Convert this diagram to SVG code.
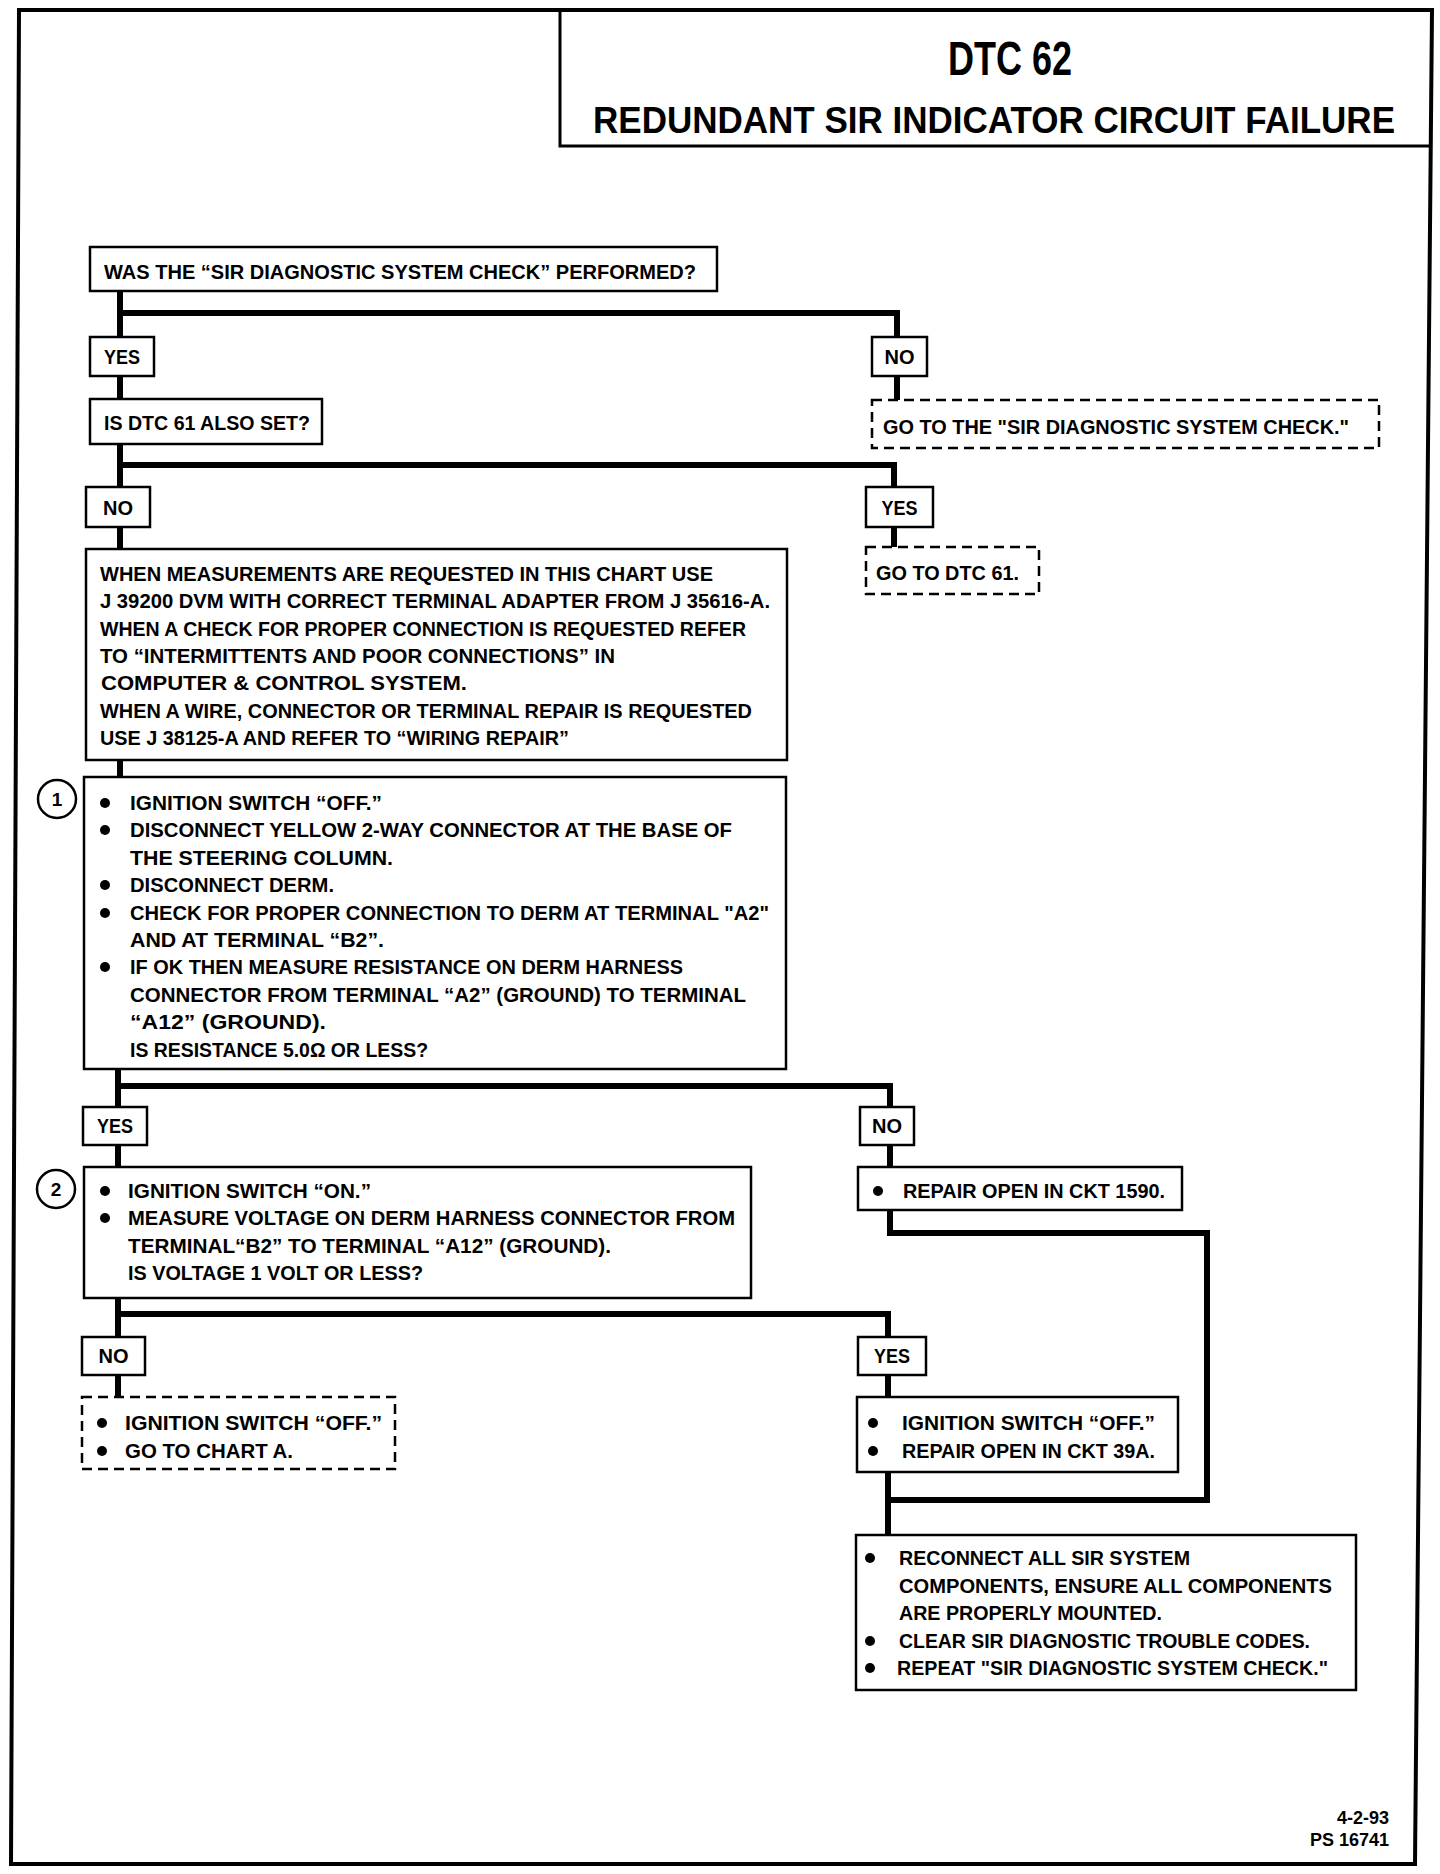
<svg xmlns="http://www.w3.org/2000/svg" width="1440" height="1874" viewBox="0 0 1440 1874">
<style>
.box{fill:#fff;stroke:#000;stroke-width:2.5}
.dash{fill:#fff;stroke:#000;stroke-width:2.5;stroke-dasharray:10 6}
.conn{fill:none;stroke:#000;stroke-width:6;stroke-linejoin:miter;stroke-linecap:square}
.frame{fill:none;stroke:#000;stroke-width:4}
.t{font-family:"Liberation Sans Narrow","Liberation Sans",Arial,sans-serif;font-weight:bold;font-size:21px;fill:#000}
.lbl{font-family:"Liberation Sans Narrow","Liberation Sans",Arial,sans-serif;font-weight:bold;font-size:20px;fill:#000;text-anchor:middle}
.num{font-family:"Liberation Sans",Arial,sans-serif;font-weight:bold;font-size:19px;fill:#000;text-anchor:middle}
.circ{fill:#fff;stroke:#000;stroke-width:2.5}
.dot{fill:#000}
</style>
<rect width="1440" height="1874" fill="#fff"/>
<g id="frame">
<path class="frame" d="M19,10 L1432,10 L1415,1864 L11,1864 Z"/>
</g>
<g id="title">
<path class="frame" d="M560,10 V146 H1431" style="stroke-width:3"/>
<text x="948" y="75" textLength="124" lengthAdjust="spacingAndGlyphs" style="font-family:'Liberation Sans Narrow','Liberation Sans',Arial,sans-serif;font-weight:bold;font-size:48px">DTC 62</text>
<text x="593" y="133" textLength="802" lengthAdjust="spacingAndGlyphs" style="font-family:'Liberation Sans Narrow','Liberation Sans',Arial,sans-serif;font-weight:bold;font-size:36px">REDUNDANT SIR INDICATOR CIRCUIT FAILURE</text>
</g>
<g id="connectors">
<path class="conn" d="M120,291 V337 M120,313 H897 V337"/>
<path class="conn" d="M120,376 V399"/>
<path class="conn" d="M897,376 V400"/>
<path class="conn" d="M120,444 V487 M120,465 H894 V487"/>
<path class="conn" d="M120,527 V549"/>
<path class="conn" d="M894,527 V547"/>
<path class="conn" d="M120,760 V777"/>
<path class="conn" d="M118,1069 V1107 M118,1086 H890 V1107"/>
<path class="conn" d="M118,1145 V1167"/>
<path class="conn" d="M890,1145 V1167"/>
<path class="conn" d="M118,1298 V1337 M118,1314 H888 V1337"/>
<path class="conn" d="M118,1375 V1397"/>
<path class="conn" d="M888,1375 V1397"/>
<path class="conn" d="M890,1210 V1233 H1207 V1500 H888"/>
<path class="conn" d="M888,1472 V1535"/>
</g>
<g id="q1">
<rect class="box" x="90" y="247" width="627" height="44"/>
<text class="t" x="104" y="279" textLength="592" lengthAdjust="spacingAndGlyphs">WAS THE “SIR DIAGNOSTIC SYSTEM CHECK” PERFORMED?</text>
</g>
<g id="yes1">
<rect class="box" x="90" y="337" width="64" height="39"/>
<text class="lbl" x="122" y="364" textLength="36" lengthAdjust="spacingAndGlyphs">YES</text>
</g>
<g id="no1">
<rect class="box" x="872" y="337" width="55" height="39"/>
<text class="lbl" x="899.5" y="364">NO</text>
</g>
<g id="goto-check">
<rect class="dash" x="872" y="400" width="507" height="48"/>
<text class="t" x="883" y="434" textLength="466" lengthAdjust="spacingAndGlyphs">GO TO THE "SIR DIAGNOSTIC SYSTEM CHECK."</text>
</g>
<g id="q2">
<rect class="box" x="90" y="399" width="232" height="45"/>
<text class="t" x="104" y="430" textLength="206" lengthAdjust="spacingAndGlyphs">IS DTC 61 ALSO SET?</text>
</g>
<g id="no2">
<rect class="box" x="86" y="487" width="64" height="40"/>
<text class="lbl" x="118" y="515">NO</text>
</g>
<g id="yes2">
<rect class="box" x="866" y="487" width="67" height="40"/>
<text class="lbl" x="899.5" y="515" textLength="36" lengthAdjust="spacingAndGlyphs">YES</text>
</g>
<g id="goto-dtc61">
<rect class="dash" x="866" y="547" width="173" height="47"/>
<text class="t" x="876" y="580" textLength="143" lengthAdjust="spacingAndGlyphs">GO TO DTC 61.</text>
</g>
<g id="info">
<rect class="box" x="86" y="549" width="701" height="211"/>
<text class="t" x="100" y="581" textLength="613" lengthAdjust="spacingAndGlyphs">WHEN MEASUREMENTS ARE REQUESTED IN THIS CHART USE</text>
<text class="t" x="100" y="608" textLength="670" lengthAdjust="spacingAndGlyphs">J 39200 DVM WITH CORRECT TERMINAL ADAPTER FROM J 35616-A.</text>
<text class="t" x="100" y="636" textLength="646" lengthAdjust="spacingAndGlyphs">WHEN A CHECK FOR PROPER CONNECTION IS REQUESTED REFER</text>
<text class="t" x="100" y="663" textLength="515" lengthAdjust="spacingAndGlyphs">TO “INTERMITTENTS AND POOR CONNECTIONS” IN</text>
<text class="t" x="101" y="690" textLength="366" lengthAdjust="spacingAndGlyphs">COMPUTER &amp; CONTROL SYSTEM.</text>
<text class="t" x="100" y="718" textLength="652" lengthAdjust="spacingAndGlyphs">WHEN A WIRE, CONNECTOR OR TERMINAL REPAIR IS REQUESTED</text>
<text class="t" x="100" y="745" textLength="469" lengthAdjust="spacingAndGlyphs">USE J 38125-A AND REFER TO “WIRING REPAIR”</text>
</g>
<g id="step1">
<circle class="circ" cx="57" cy="799" r="19"/>
<text class="num" x="57" y="806">1</text>
<rect class="box" x="84" y="777" width="702" height="292"/>
<circle class="dot" cx="105" cy="803" r="5"/>
<circle class="dot" cx="105" cy="830" r="5"/>
<circle class="dot" cx="105" cy="885" r="5"/>
<circle class="dot" cx="105" cy="913" r="5"/>
<circle class="dot" cx="105" cy="967" r="5"/>
<text class="t" x="130" y="810" textLength="252" lengthAdjust="spacingAndGlyphs">IGNITION SWITCH “OFF.”</text>
<text class="t" x="130" y="837" textLength="602" lengthAdjust="spacingAndGlyphs">DISCONNECT YELLOW 2-WAY CONNECTOR AT THE BASE OF</text>
<text class="t" x="130" y="865" textLength="263" lengthAdjust="spacingAndGlyphs">THE STEERING COLUMN.</text>
<text class="t" x="130" y="892" textLength="204" lengthAdjust="spacingAndGlyphs">DISCONNECT DERM.</text>
<text class="t" x="130" y="920" textLength="639" lengthAdjust="spacingAndGlyphs">CHECK FOR PROPER CONNECTION TO DERM AT TERMINAL "A2"</text>
<text class="t" x="130" y="947" textLength="254" lengthAdjust="spacingAndGlyphs">AND AT TERMINAL “B2”.</text>
<text class="t" x="130" y="974" textLength="553" lengthAdjust="spacingAndGlyphs">IF OK THEN MEASURE RESISTANCE ON DERM HARNESS</text>
<text class="t" x="130" y="1002" textLength="616" lengthAdjust="spacingAndGlyphs">CONNECTOR FROM TERMINAL “A2” (GROUND) TO TERMINAL</text>
<text class="t" x="130" y="1029" textLength="196" lengthAdjust="spacingAndGlyphs">“A12” (GROUND).</text>
<text class="t" x="130" y="1057" textLength="298" lengthAdjust="spacingAndGlyphs">IS RESISTANCE 5.0Ω OR LESS?</text>
</g>
<g id="yes3">
<rect class="box" x="83" y="1107" width="64" height="38"/>
<text class="lbl" x="115" y="1133" textLength="36" lengthAdjust="spacingAndGlyphs">YES</text>
</g>
<g id="no3">
<rect class="box" x="860" y="1107" width="54" height="38"/>
<text class="lbl" x="887" y="1133">NO</text>
</g>
<g id="repair1590">
<rect class="box" x="858" y="1167" width="324" height="43"/>
<circle class="dot" cx="878" cy="1191" r="5"/>
<text class="t" x="903" y="1198" textLength="262" lengthAdjust="spacingAndGlyphs">REPAIR OPEN IN CKT 1590.</text>
</g>
<g id="step2">
<circle class="circ" cx="56" cy="1189" r="19"/>
<text class="num" x="56" y="1196">2</text>
<rect class="box" x="84" y="1167" width="667" height="131"/>
<circle class="dot" cx="105" cy="1191" r="5"/>
<circle class="dot" cx="105" cy="1218" r="5"/>
<text class="t" x="128" y="1198" textLength="243" lengthAdjust="spacingAndGlyphs">IGNITION SWITCH “ON.”</text>
<text class="t" x="128" y="1225" textLength="607" lengthAdjust="spacingAndGlyphs">MEASURE VOLTAGE ON DERM HARNESS CONNECTOR FROM</text>
<text class="t" x="128" y="1253" textLength="483" lengthAdjust="spacingAndGlyphs">TERMINAL“B2” TO TERMINAL “A12” (GROUND).</text>
<text class="t" x="128" y="1280" textLength="295" lengthAdjust="spacingAndGlyphs">IS VOLTAGE 1 VOLT OR LESS?</text>
</g>
<g id="no4">
<rect class="box" x="82" y="1337" width="63" height="38"/>
<text class="lbl" x="113.5" y="1363">NO</text>
</g>
<g id="yes4">
<rect class="box" x="858" y="1337" width="68" height="38"/>
<text class="lbl" x="892" y="1363" textLength="36" lengthAdjust="spacingAndGlyphs">YES</text>
</g>
<g id="goto-chartA">
<rect class="dash" x="82" y="1397" width="313" height="72"/>
<circle class="dot" cx="102" cy="1423" r="5"/>
<circle class="dot" cx="102" cy="1451" r="5"/>
<text class="t" x="125" y="1430" textLength="257" lengthAdjust="spacingAndGlyphs">IGNITION SWITCH “OFF.”</text>
<text class="t" x="125" y="1458" textLength="168" lengthAdjust="spacingAndGlyphs">GO TO CHART A.</text>
</g>
<g id="repair39A">
<rect class="box" x="857" y="1397" width="321" height="75"/>
<circle class="dot" cx="873" cy="1423" r="5"/>
<circle class="dot" cx="873" cy="1451" r="5"/>
<text class="t" x="902" y="1430" textLength="253" lengthAdjust="spacingAndGlyphs">IGNITION SWITCH “OFF.”</text>
<text class="t" x="902" y="1458" textLength="253" lengthAdjust="spacingAndGlyphs">REPAIR OPEN IN CKT 39A.</text>
</g>
<g id="final">
<rect class="box" x="856" y="1535" width="500" height="155"/>
<circle class="dot" cx="870" cy="1558" r="5"/>
<circle class="dot" cx="870" cy="1641" r="5"/>
<circle class="dot" cx="870" cy="1668" r="5"/>
<text class="t" x="899" y="1565" textLength="291" lengthAdjust="spacingAndGlyphs">RECONNECT ALL SIR SYSTEM</text>
<text class="t" x="899" y="1593" textLength="433" lengthAdjust="spacingAndGlyphs">COMPONENTS, ENSURE ALL COMPONENTS</text>
<text class="t" x="899" y="1620" textLength="263" lengthAdjust="spacingAndGlyphs">ARE PROPERLY MOUNTED.</text>
<text class="t" x="899" y="1648" textLength="411" lengthAdjust="spacingAndGlyphs">CLEAR SIR DIAGNOSTIC TROUBLE CODES.</text>
<text class="t" x="897" y="1675" textLength="431" lengthAdjust="spacingAndGlyphs">REPEAT "SIR DIAGNOSTIC SYSTEM CHECK."</text>
</g>
<g id="footer">
<text x="1389" y="1824" style="font-family:'Liberation Sans',Arial,sans-serif;font-weight:bold;font-size:18px;text-anchor:end">4-2-93</text>
<text x="1389" y="1846" style="font-family:'Liberation Sans',Arial,sans-serif;font-weight:bold;font-size:18px;text-anchor:end">PS 16741</text>
</g>
</svg>
